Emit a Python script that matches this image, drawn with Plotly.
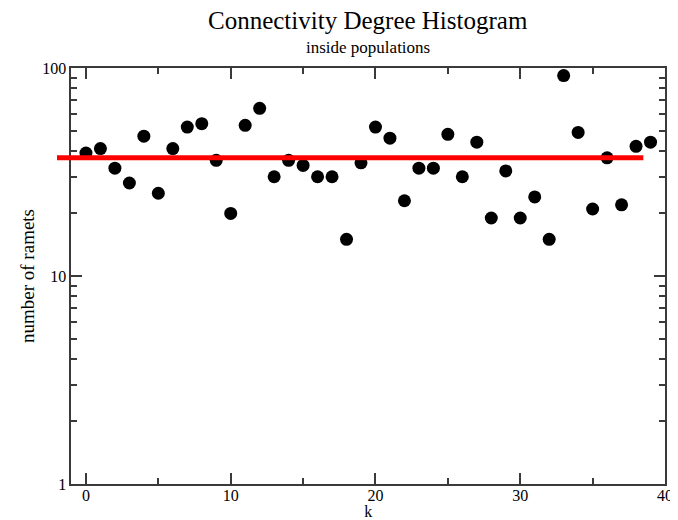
import plotly.graph_objects as go

# ---- data ----
k_values = list(range(40))
ramets = [39, 41, 33, 28, 47, 25, 41, 52, 54, 36,
          20, 53, 64, 30, 36, 34, 30, 30, 15, 35,
          52, 46, 23, 33, 33, 48, 30, 44, 19, 32,
          19, 24, 15, 92, 49, 21, 37, 22, 42, 44]
fit_x = [-2, 38.5]
fit_y = [37, 37]

x_ticks = [0, 10, 20, 30, 40]
y_ticks = [1, 10, 100]
y_ticklabels = ["1", "10", "100"]

X_MIN, X_MAX = -1, 40
X_EXT_MIN = -2

FONT = "Liberation Serif"
AX_COL = "#3a3a3a"

fig = go.Figure()

fig.add_trace(go.Scatter(
    x=k_values, y=ramets, mode="markers",
    marker=dict(color="black", size=13, line=dict(width=0)),
    xaxis="x", yaxis="y", showlegend=False, cliponaxis=False,
))

fig.add_trace(go.Scatter(
    x=fit_x, y=fit_y, mode="lines",
    line=dict(color="#ff0000", width=5),
    xaxis="x2", yaxis="y2", showlegend=False,
))

span_ext = X_MAX - X_EXT_MIN
dom_start = (X_MIN - X_EXT_MIN) / span_ext

axis_common = dict(
    showline=True, linecolor=AX_COL, linewidth=2, mirror="ticks",
    ticks="inside", tickcolor=AX_COL, tickwidth=1.5, ticklen=11,
    showgrid=False, zeroline=False, automargin=False,
    tickfont=dict(family=FONT, size=16, color="black"),
)

# the page body has an 8px default margin, so the figure is 8px smaller
fig.update_layout(
    width=670, height=512,
    margin=dict(l=49, r=13, t=60, b=36),
    paper_bgcolor="white", plot_bgcolor="rgba(0,0,0,0)",
    font=dict(family=FONT, color="black"),
    xaxis=dict(
        **axis_common,
        range=[X_MIN, X_MAX], domain=[dom_start, 1], anchor="y",
        tickvals=x_ticks, ticklabelstandoff=-4,
        minor=dict(dtick=5, tick0=0, ticks="inside", ticklen=6,
                   tickcolor=AX_COL, tickwidth=1.5, showgrid=False),
        title=dict(text="k", font=dict(family=FONT, size=16), standoff=7),
    ),
    yaxis=dict(
        **axis_common,
        type="log", range=[0, 2], domain=[0, 1], anchor="x",
        tickvals=y_ticks, ticktext=y_ticklabels,
        minor=dict(dtick="D1", ticks="inside", ticklen=6,
                   tickcolor=AX_COL, tickwidth=1.5, showgrid=False),
        title=dict(text="number of ramets", font=dict(family=FONT, size=19), standoff=3),
    ),
    xaxis2=dict(range=[X_EXT_MIN, X_MAX], domain=[0, 1], anchor="y2",
                visible=False, fixedrange=True),
    yaxis2=dict(type="log", range=[0, 2], domain=[0, 1], anchor="x2",
                visible=False, fixedrange=True),
    annotations=[
        dict(text="Connectivity Degree Histogram", xref="paper", yref="paper",
             x=(dom_start + 1) / 2, y=1, yshift=48, showarrow=False,
             font=dict(family=FONT, size=25, color="black"),
             xanchor="center", yanchor="middle"),
        dict(text="inside populations", xref="paper", yref="paper",
             x=(dom_start + 1) / 2, y=1, yshift=21, showarrow=False,
             font=dict(family=FONT, size=17, color="black"),
             xanchor="center", yanchor="middle"),
    ],
)

fig.write_html("out.html")
